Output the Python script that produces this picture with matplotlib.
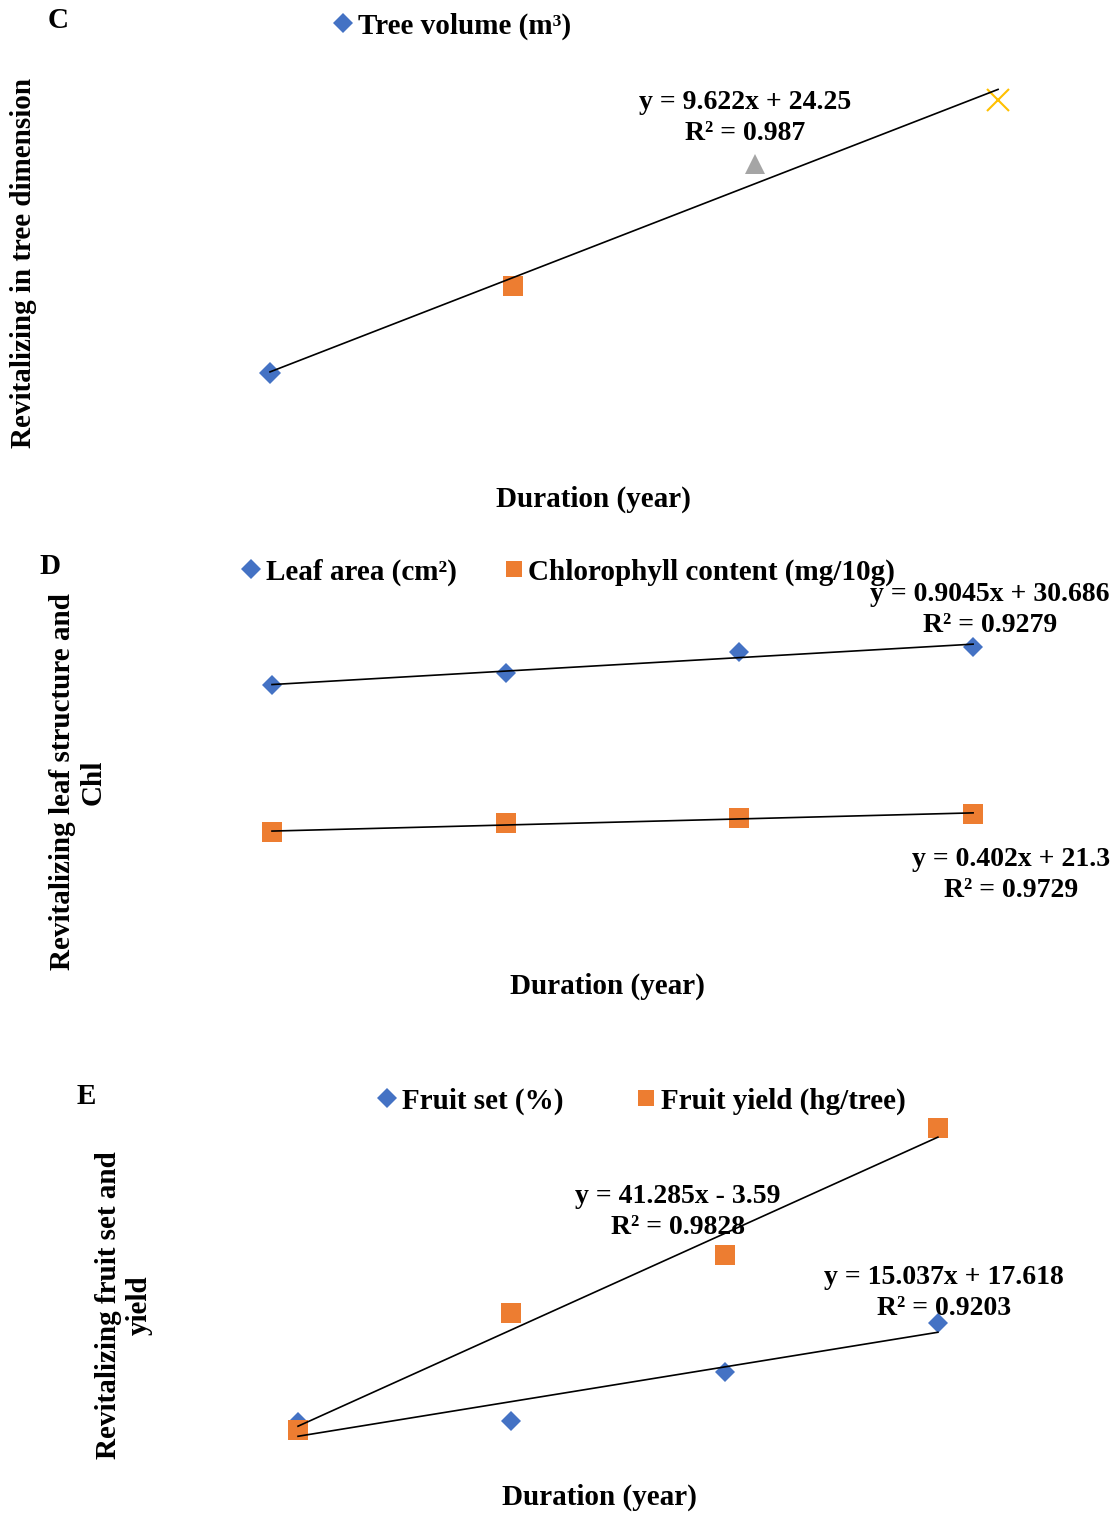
import numpy as np
import matplotlib
matplotlib.use("Agg")
import matplotlib.pyplot as plt
from matplotlib.lines import Line2D

plt.rcParams['font.family'] = ['Liberation Serif', 'DejaVu Serif']
plt.rcParams['font.weight'] = 'bold'

W, H = 1118, 1514

# duration (years)
years = [1, 2, 3, 4]

# panel C - tree volume (one value per year, Excel coloured each point)
tree_volume = [33.9, 42.8, 55.2, 61.8]

# panel D
leaf_area = [31.55, 32.35, 33.8, 34.1]
chlorophyll = [21.6, 22.2, 22.55, 22.85]

# panel E
fruit_set = [39.4, 40.0, 61.0, 82.0]
fruit_yield = [36.0, 86.0, 111.0, 165.5]

eq_c = "y = 9.622x + 24.25\nR² = 0.987"
eq_leaf = "y = 0.9045x + 30.686\nR² = 0.9279"
eq_chl = "y = 0.402x + 21.3\nR² = 0.9729"
eq_yield = "y = 41.285x - 3.59\nR² = 0.9828"
eq_set = "y = 15.037x + 17.618\nR² = 0.9203"

BLUE = "#4472C4"
ORANGE = "#ED7D31"
GRAY = "#A5A5A5"
YELLOW = "#FFC000"
FS = 21      # titles, legends
FS_EQ = 20   # trendline labels

fig = plt.figure(figsize=(W / 100, H / 100), dpi=100)


def px_axes(left, top, right, bottom):
    ax = fig.add_axes([left / W, 1 - bottom / H, (right - left) / W, (bottom - top) / H])
    ax.axis('off')
    return ax


def ftext(x, y, s, **kw):
    kw.setdefault('fontsize', FS)
    kw.setdefault('fontweight', 'bold')
    kw.setdefault('ha', 'center')
    kw.setdefault('va', 'center')
    return fig.text(x / W, 1 - y / H, s, **kw)


def eqtext(x, y, s):
    return ftext(x, y, s, fontsize=FS_EQ, linespacing=1.33)


def trend(ax, x, y):
    k, b = np.polyfit(x, y, 1)
    xx = np.array([min(x), max(x)])
    ax.plot(xx, k * xx + b, color='black', lw=1.2, zorder=5)


def legend(handles, labels, x, y, cs):
    fig.legend(handles, labels, loc='center', bbox_to_anchor=(x / W, 1 - y / H),
               ncol=len(labels), frameon=False, fontsize=FS,
               handletextpad=0.0, handlelength=1.0, columnspacing=cs)


diamond_h = Line2D([], [], marker='D', color=BLUE, ms=10, mew=0, linestyle='none')
square_h = Line2D([], [], marker='s', color=ORANGE, ms=12, mew=0, linestyle='none')

# ---------------- C ----------------
axC = px_axes(150, 60, 1100, 470)
axC.set_xlim(0.5056, 4.420)
axC.set_ylim(24.0, 65.84)
mk_c = [('D', BLUE, 11), ('s', ORANGE, 14), ('^', GRAY, 14), ('x', YELLOW, 16)]
for i, (m, c, ms) in enumerate(mk_c):
    axC.plot(years[i], tree_volume[i], marker=m, color=c, ms=ms, mew=1.5 if m == 'x' else 0,
             linestyle='none', zorder=3)
trend(axC, years, tree_volume)
ftext(58, 21, "C")
eqtext(745, 118, eq_c)
ftext(593, 499, "Duration (year)")
ftext(24, 263, "Revitalizing in tree dimension", rotation=90)
legend([diamond_h], ["Tree volume (m³)"], 450, 26, 1.4)

# ---------------- D ----------------
axD = px_axes(150, 560, 1100, 950)
axD.set_xlim(0.478, 4.543)
axD.set_ylim(13.65, 40.0)
axD.plot(years, leaf_area, 'D', color=BLUE, ms=10, mew=0, zorder=3)
axD.plot(years, chlorophyll, 's', color=ORANGE, ms=14, mew=0, zorder=3)
trend(axD, years, leaf_area)
trend(axD, years, chlorophyll)
ftext(50, 567, "D")
eqtext(990, 610, eq_leaf)
eqtext(1011, 875, eq_chl)
ftext(607, 986, "Duration (year)")
ftext(78, 782, "Revitalizing leaf structure and\nChl", rotation=90, linespacing=1.2)
legend([diamond_h, square_h], ["Leaf area (cm²)", "Chlorophyll content (mg/10g)"], 566, 572, 1.45)

# ---------------- E ----------------
axE = px_axes(150, 1110, 1100, 1460)
axE.set_xlim(0.306, 4.760)
axE.set_ylim(23.1, 173.3)
axE.plot(years, fruit_set, 'D', color=BLUE, ms=10, mew=0, zorder=3)
axE.plot(years, fruit_yield, 's', color=ORANGE, ms=14, mew=0, zorder=3)
trend(axE, years, fruit_yield)
trend(axE, years, fruit_set)
ftext(86, 1097, "E")
eqtext(678, 1212, eq_yield)
eqtext(944, 1293, eq_set)
ftext(599, 1497, "Duration (year)")
ftext(124, 1305, "Revitalizing fruit set and\nyield", rotation=90, linespacing=1.2)
legend([diamond_h, square_h], ["Fruit set (%)", "Fruit yield (hg/tree)"], 639, 1101, 2.35)

fig.savefig("out.png", dpi=100)
